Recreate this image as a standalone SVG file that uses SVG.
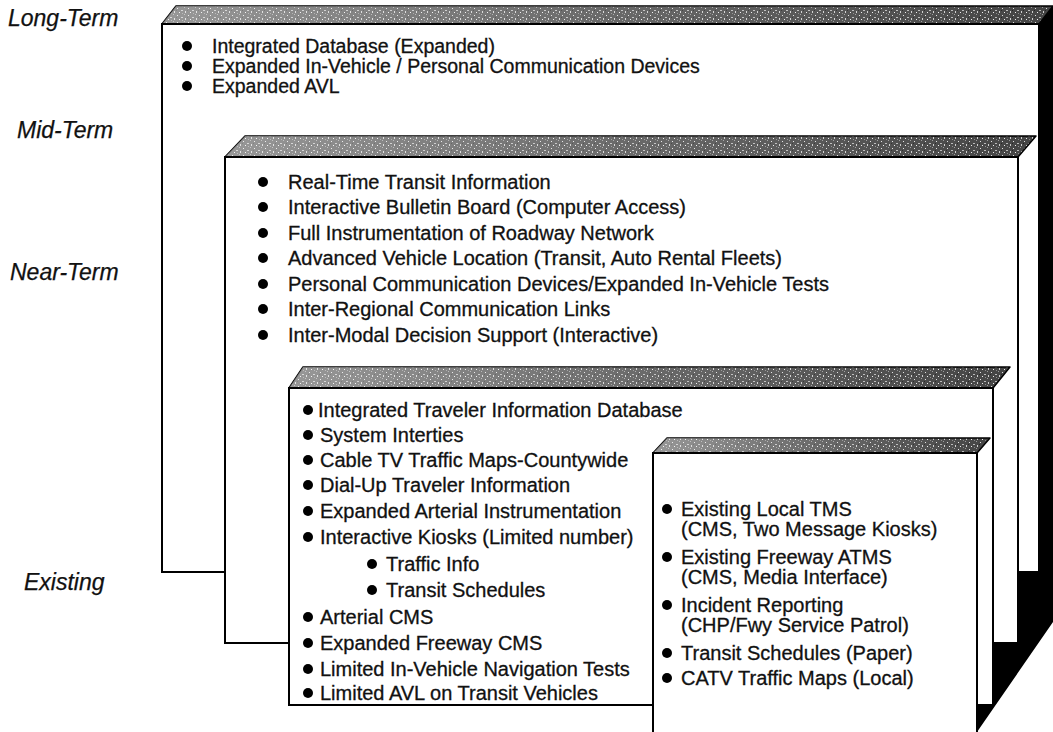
<svg xmlns="http://www.w3.org/2000/svg" width="1053" height="732" viewBox="0 0 1053 732">
<style>
.t{font-family:"Liberation Sans",Arial,Helvetica,sans-serif;font-size:20px;fill:#111;stroke:#111;stroke-width:0.3}
.tl{font-family:"Liberation Sans",Arial,Helvetica,sans-serif;font-size:19.5px;fill:#111;stroke:#111;stroke-width:0.3}
.lbl{font-family:"Liberation Sans",Arial,Helvetica,sans-serif;font-size:23px;font-style:italic;fill:#111;stroke:#111;stroke-width:0.25}
.front{fill:#fff;stroke:#000;stroke-width:2}
.top{fill:url(#spk);stroke:#000;stroke-width:1.5;stroke-linejoin:round}
.shade{fill:url(#fade);stroke:none}
.b{fill:#000}
</style>
<defs>
<pattern id="spk" width="11" height="7" patternUnits="userSpaceOnUse">
<rect width="11" height="7" fill="#444"/>
<rect x="1" y="1" width="1" height="1" fill="#e0e0e0"/>
<rect x="5" y="3" width="2" height="1" fill="#b8b8b8"/>
<rect x="3" y="5" width="1" height="1" fill="#eeeeee"/>
<rect x="8" y="0" width="1" height="1" fill="#999"/>
<rect x="9" y="4" width="1" height="2" fill="#cfcfcf"/>
<rect x="6" y="6" width="1" height="1" fill="#888"/>
<rect x="0" y="3" width="1" height="1" fill="#222"/>
</pattern>
<linearGradient id="fade" x1="0" y1="0" x2="1" y2="0">
<stop offset="0" stop-color="#fff" stop-opacity="0.45"/>
<stop offset="0.5" stop-color="#fff" stop-opacity="0.2"/>
<stop offset="1" stop-color="#fff" stop-opacity="0"/>
</linearGradient>
</defs>

<g id="labels">
<text class="lbl" x="8" y="26">Long-Term</text>
<text class="lbl" x="17" y="138">Mid-Term</text>
<text class="lbl" x="10" y="280">Near-Term</text>
<text class="lbl" x="24" y="590">Existing</text>
</g>

<g id="side-shadow">
<polygon points="1039,24 1053,6 1053,622 977,732 960,732 960,24" fill="#000"/>
</g>

<g id="long-term">
<polygon class="top" points="162,24 176,6 1053,6 1039,24"/>
<polygon class="shade" points="162,24 176,6 1053,6 1039,24"/>
<rect class="front" x="162" y="24" width="877" height="548"/>
<circle class="b" cx="187" cy="46" r="5"/>
<text class="tl" x="212" y="53">Integrated Database (Expanded)</text>
<circle class="b" cx="187" cy="66" r="5"/>
<text class="tl" x="212" y="73">Expanded In-Vehicle / Personal Communication Devices</text>
<circle class="b" cx="187" cy="86" r="5"/>
<text class="tl" x="212" y="93">Expanded AVL</text>
</g>

<g id="mid-term">
<polygon class="top" points="225,157 245,136 1036,136 1018,157"/>
<polygon class="shade" points="225,157 245,136 1036,136 1018,157"/>
<rect class="front" x="225" y="157" width="793" height="486"/>
<circle class="b" cx="263" cy="182" r="5"/>
<text class="t" x="288" y="189">Real-Time Transit Information</text>
<circle class="b" cx="263" cy="207" r="5"/>
<text class="t" x="288" y="214">Interactive Bulletin Board (Computer Access)</text>
<circle class="b" cx="263" cy="233" r="5"/>
<text class="t" x="288" y="240">Full Instrumentation of Roadway Network</text>
<circle class="b" cx="263" cy="258" r="5"/>
<text class="t" x="288" y="265">Advanced Vehicle Location (Transit, Auto Rental Fleets)</text>
<circle class="b" cx="263" cy="284" r="5"/>
<text class="t" x="288" y="291">Personal Communication Devices/Expanded In-Vehicle Tests</text>
<circle class="b" cx="263" cy="309" r="5"/>
<text class="t" x="288" y="316">Inter-Regional Communication Links</text>
<circle class="b" cx="263" cy="335" r="5"/>
<text class="t" x="288" y="342">Inter-Modal Decision Support (Interactive)</text>
</g>

<g id="near-term">
<polygon class="top" points="289,388 303,367 1010,367 993,388"/>
<polygon class="shade" points="289,388 303,367 1010,367 993,388"/>
<rect class="front" x="289" y="388" width="704" height="317"/>
<circle class="b" cx="308" cy="410" r="5"/>
<text class="t" x="318" y="417">Integrated Traveler Information Database</text>
<circle class="b" cx="308" cy="435" r="5"/>
<text class="t" x="320" y="442">System Interties</text>
<circle class="b" cx="308" cy="460" r="5"/>
<text class="t" x="320" y="467">Cable TV Traffic Maps-Countywide</text>
<circle class="b" cx="308" cy="485" r="5"/>
<text class="t" x="320" y="492">Dial-Up Traveler Information</text>
<circle class="b" cx="308" cy="511" r="5"/>
<text class="t" x="320" y="518">Expanded Arterial Instrumentation</text>
<circle class="b" cx="308" cy="537" r="5"/>
<text class="t" x="320" y="544">Interactive Kiosks (Limited number)</text>
<circle class="b" cx="372" cy="564" r="5"/>
<text class="t" x="386" y="571">Traffic Info</text>
<circle class="b" cx="372" cy="590" r="5"/>
<text class="t" x="386" y="597">Transit Schedules</text>
<circle class="b" cx="308" cy="617" r="5"/>
<text class="t" x="320" y="624">Arterial CMS</text>
<circle class="b" cx="308" cy="643" r="5"/>
<text class="t" x="320" y="650">Expanded Freeway CMS</text>
<circle class="b" cx="308" cy="669" r="5"/>
<text class="t" x="320" y="676">Limited In-Vehicle Navigation Tests</text>
<circle class="b" cx="308" cy="693" r="5"/>
<text class="t" x="320" y="700">Limited AVL on Transit Vehicles</text>
</g>

<g id="existing">
<polygon class="top" points="653,453 667,438 990,438 977,453"/>
<polygon class="shade" points="653,453 667,438 990,438 977,453"/>
<rect class="front" x="653" y="453" width="324" height="290"/>
<circle class="b" cx="667" cy="509" r="5"/>
<text class="t" x="681" y="516">Existing Local TMS</text>
<text class="t" x="681" y="536">(CMS, Two Message Kiosks)</text>
<circle class="b" cx="667" cy="557" r="5"/>
<text class="t" x="681" y="564">Existing Freeway ATMS</text>
<text class="t" x="681" y="584">(CMS, Media Interface)</text>
<circle class="b" cx="667" cy="605" r="5"/>
<text class="t" x="681" y="612">Incident Reporting</text>
<text class="t" x="681" y="632">(CHP/Fwy Service Patrol)</text>
<circle class="b" cx="667" cy="653" r="5"/>
<text class="t" x="681" y="660">Transit Schedules (Paper)</text>
<circle class="b" cx="667" cy="678" r="5"/>
<text class="t" x="681" y="685">CATV Traffic Maps (Local)</text>
</g>

<g id="connectors"></g>
</svg>
